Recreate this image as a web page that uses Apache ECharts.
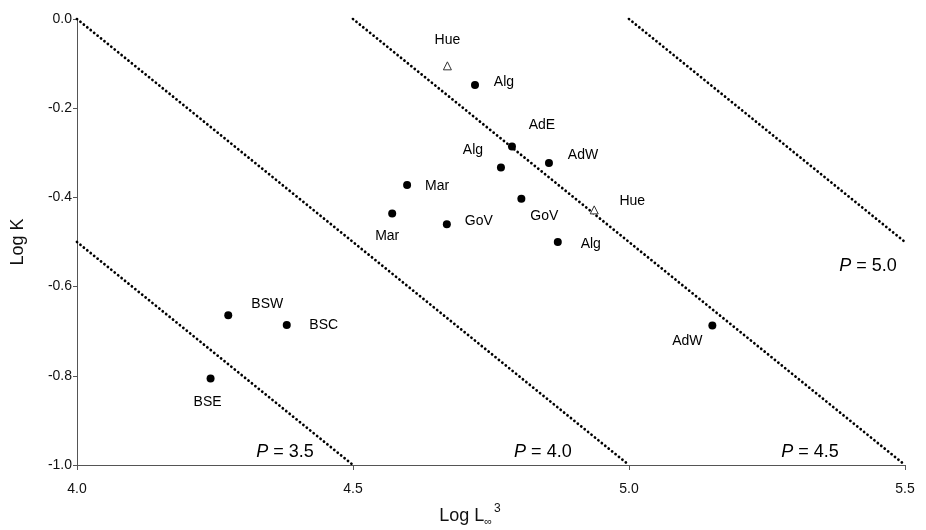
<!DOCTYPE html>
<html>
<head>
<meta charset="utf-8">
<script src="https://cdn.jsdelivr.net/npm/echarts@6/dist/echarts.min.js"></script>
<style>
  html, body { margin: 0; padding: 0; background: #fff; }
  #chart { width: 926px; height: 530px; }
</style>
</head>
<body>
<div id="chart"></div>
<script>
// sites with filled dots
const dotNames = ['Alg', 'AdE', 'Alg', 'AdW', 'Mar', 'Mar', 'GoV', 'GoV', 'Alg', 'AdW', 'BSW', 'BSC', 'BSE']
const dotLogL = [4.721, 4.788, 4.768, 4.855, 4.598, 4.571, 4.670, 4.805, 4.871, 5.151, 4.274, 4.380, 4.242]
const dotLogK = [-0.148, -0.286, -0.333, -0.323, -0.372, -0.436, -0.460, -0.403, -0.500, -0.687, -0.664, -0.686, -0.806]

// Hue sites (open triangles)
const hueNames = ['Hue', 'Hue']
const hueLogL = [4.671, 4.937]
const hueLogK = [-0.105, -0.428]

// P isopleths (P = log K + log L∞³), start and end of each line
const pValues = ['3.5', '4.0', '4.5', '5.0']
const pLineStart = [[4.0, -0.5], [4.0, 0.0], [4.5, 0.0], [5.0, 0.0]]
const pLineEnd = [[4.5, -1.0], [5.0, -1.0], [5.5, -1.0], [5.5, -0.5]]
const pLabelAt = [[4.377, -0.971], [4.844, -0.971], [5.328, -0.971], [5.433, -0.554]]

const xTicks = [4.0, 4.5, 5.0, 5.5]
const yTicks = [0.0, -0.2, -0.4, -0.6, -0.8, -1.0]

// label offsets in pixels (style only)
const dotLabelOffsets = [[29, -3], [30, -21], [-28, -17], [34, -8], [30, 1], [-5, 23], [32, -3], [23, 17], [33, 2], [-25, 16], [39, -11], [37, 0], [-3, 24]]
const hueLabelOffsets = [[0, -26], [38, -9]]

const font = 'Liberation Sans, Arial, sans-serif'

const chart = echarts.init(document.getElementById('chart'))

const lineSeries = pValues.map((p, i) => ({
  type: 'line',
  data: [pLineStart[i], pLineEnd[i]],
  symbol: 'none',
  silent: true,
  lineStyle: { color: '#000', width: 2.8, type: [0.01, 4.4], cap: 'round' },
  z: 1
}))

const pointLabel = {
  show: true,
  position: 'inside',
  formatter: '{b}',
  fontFamily: font,
  fontSize: 14,
  color: '#000',
  textBorderWidth: 0,
  align: 'center',
  verticalAlign: 'middle'
}

const option = {
  backgroundColor: '#fff',
  animation: false,
  grid: { left: 77, right: 21, top: 19, bottom: 65, outerBoundsMode: 'none' },
  xAxis: {
    type: 'value',
    min: 4.0,
    max: 5.5,
    interval: 0.5,
    name: 'Log L{sub|∞}{sup|3}',
    nameLocation: 'middle',
    nameGap: 38,
    nameTextStyle: {
      fontFamily: font,
      fontSize: 18,
      color: '#111',
      padding: [0, 42, 0, 0],
      rich: {
        sub: { fontFamily: font, fontSize: 11, color: '#111', padding: [12, 0, 0, 0] },
        sup: { fontFamily: font, fontSize: 12, color: '#111', padding: [0, 0, 14, 2] }
      }
    },
    axisLine: { onZero: false, lineStyle: { color: '#555', width: 1 } },
    axisTick: { show: true, length: 5, lineStyle: { color: '#555' } },
    axisLabel: {
      fontFamily: font,
      fontSize: 14,
      color: '#111',
      margin: 17,
      formatter: v => xTicks.includes(v) ? v.toFixed(1) : ''
    },
    splitLine: { show: false }
  },
  yAxis: {
    type: 'value',
    min: -1.0,
    max: 0.0,
    interval: 0.2,
    name: 'Log K',
    nameLocation: 'middle',
    nameRotate: 90,
    nameGap: 50,
    nameTextStyle: { fontFamily: font, fontSize: 18, color: '#111' },
    axisLine: { show: true, onZero: false, lineStyle: { color: '#555', width: 1 } },
    axisTick: { show: true, length: 4, lineStyle: { color: '#555' } },
    axisLabel: {
      fontFamily: font,
      fontSize: 14,
      color: '#111',
      margin: 5,
      formatter: v => {
        const t = yTicks.find(y => Math.abs(y - v) < 1e-6)
        return t === undefined ? '' : (t === 0 ? '0.0' : t.toFixed(1))
      }
    },
    splitLine: { show: false }
  },
  series: [
    ...lineSeries,
    {
      type: 'scatter',
      symbol: 'circle',
      symbolSize: 8,
      itemStyle: { color: '#000', opacity: 1 },
      data: dotLogL.map((x, i) => ({
        value: [x, dotLogK[i]],
        name: dotNames[i],
        label: { offset: dotLabelOffsets[i] }
      })),
      label: pointLabel,
      z: 3
    },
    {
      type: 'scatter',
      symbol: 'triangle',
      symbolSize: 8,
      itemStyle: { color: '#fff', borderColor: '#333', borderWidth: 1, opacity: 1 },
      data: hueLogL.map((x, i) => ({
        value: [x, hueLogK[i]],
        name: hueNames[i],
        label: { offset: hueLabelOffsets[i] }
      })),
      label: pointLabel,
      z: 3
    }
  ]
}

chart.setOption(option)

// P labels placed through the chart's own scales
chart.setOption({
  graphic: pLabelAt.map((pos, i) => {
    const [px, py] = chart.convertToPixel({ gridIndex: 0 }, pos)
    return {
      type: 'text',
      x: px,
      y: py,
      z: 10,
      style: {
        text: '{i|P} = ' + pValues[i],
        fill: '#000',
        font: '18px ' + font,
        align: 'center',
        verticalAlign: 'middle',
        rich: { i: { fontFamily: font, fontSize: 18, fontStyle: 'italic', fill: '#000' } }
      }
    }
  })
})
</script>
</body>
</html>
